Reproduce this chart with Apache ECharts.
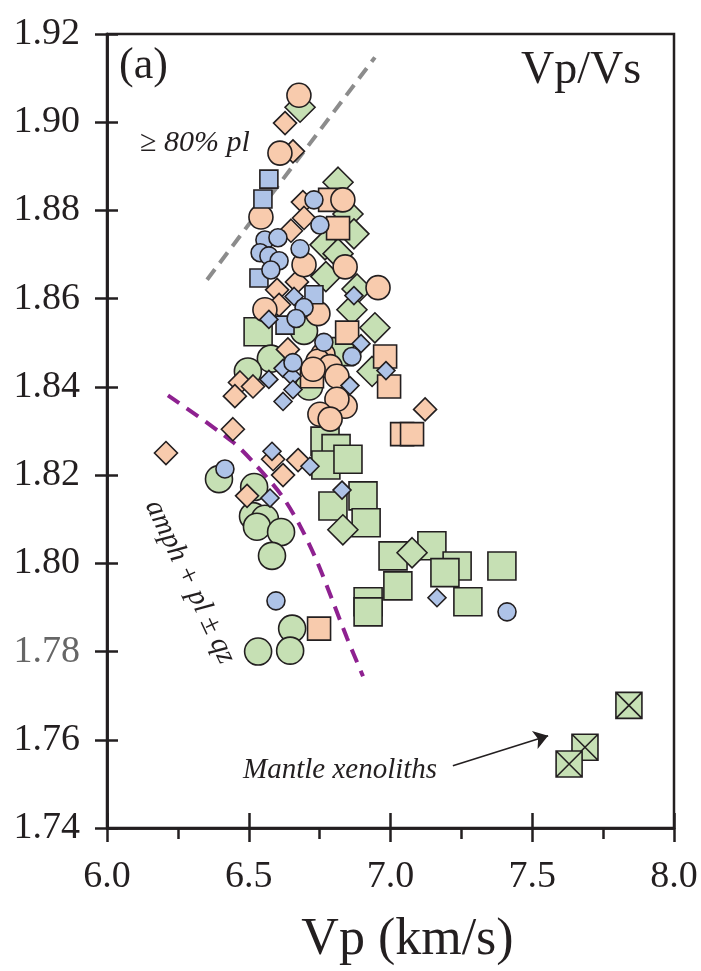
<!DOCTYPE html>
<html>
<head>
<meta charset="utf-8">
<script src="https://cdn.jsdelivr.net/npm/echarts@6/dist/echarts.min.js"></script>
<style>
  html, body { margin: 0; background: #fff; }
  #main { width: 701px; height: 971px; }
</style>
</head>
<body>
<div id="main"></div>
<script>
// Vp (km/s) vs Vp/Vs
const xTicks = [6.0, 6.5, 7.0, 7.5, 8.0];
const yTicks = [1.74, 1.76, 1.78, 1.80, 1.82, 1.84, 1.86, 1.88, 1.90, 1.92];

const peachCircles = [
  [6.677, 1.9061], [6.610, 1.8930], [6.543, 1.8785], [6.832, 1.8824], [6.840, 1.8672], [6.695, 1.8677],
  [6.956, 1.8625], [6.557, 1.8575], [6.744, 1.8566], [6.762, 1.8473], [6.744, 1.8458], [6.787, 1.8446],
  [6.727, 1.8440], [6.811, 1.8424], [6.840, 1.8356], [6.811, 1.8372], [6.751, 1.8338], [6.787, 1.8327]
];
const peachDiamonds = [
  [6.628, 1.8998], [6.656, 1.8934], [6.691, 1.8819], [6.695, 1.8783], [6.649, 1.8754], [6.670, 1.8638],
  [6.600, 1.8620], [6.607, 1.8586], [6.638, 1.8485], [6.469, 1.8410], [6.515, 1.8401], [6.451, 1.8379],
  [6.444, 1.8304], [6.208, 1.8250], [6.586, 1.8236], [6.674, 1.8234], [6.621, 1.8200], [6.494, 1.8153],
  [7.122, 1.8349]
];
const peachSquares = [
  [6.787, 1.8824], [6.815, 1.8760], [6.847, 1.8523], [6.981, 1.8469], [6.995, 1.8401], [6.723, 1.8424],
  [7.041, 1.8293], [7.076, 1.8293], [6.748, 1.7852]
];
const blueCircles = [
  [6.730, 1.8824], [6.751, 1.8767], [6.557, 1.8733], [6.603, 1.8738], [6.540, 1.8704], [6.571, 1.8697],
  [6.607, 1.8686], [6.578, 1.8665], [6.681, 1.8713], [6.695, 1.8580], [6.667, 1.8555], [6.765, 1.8501],
  [6.864, 1.8469], [6.656, 1.8455], [6.416, 1.8214], [6.596, 1.7915], [7.411, 1.7890]
];
const blueDiamonds = [
  [6.871, 1.8607], [6.660, 1.8605], [6.571, 1.8553], [6.896, 1.8498], [6.621, 1.8442], [6.653, 1.8424],
  [6.571, 1.8417], [6.857, 1.8403], [6.984, 1.8437], [6.656, 1.8394], [6.621, 1.8367], [6.582, 1.8254],
  [6.716, 1.8220], [6.575, 1.8148], [6.829, 1.8166], [7.164, 1.7922]
];
const blueSquares = [
  [6.571, 1.8871], [6.550, 1.8826], [6.536, 1.8647], [6.730, 1.8609], [6.628, 1.8540]
];
const greenCircles = [
  [6.695, 1.8527], [6.578, 1.8464], [6.497, 1.8435], [6.713, 1.8401], [6.395, 1.8191], [6.519, 1.8173],
  [6.515, 1.8107], [6.557, 1.8101], [6.529, 1.8083], [6.614, 1.8071], [6.582, 1.8017], [6.653, 1.7852],
  [6.533, 1.7800], [6.646, 1.7802]
];
const greenDiamonds = [
  [6.681, 1.9034], [6.815, 1.8864], [6.850, 1.8792], [6.871, 1.8747], [6.769, 1.8722], [6.815, 1.8702],
  [6.772, 1.8650], [6.882, 1.8622], [6.864, 1.8575], [6.945, 1.8534], [6.935, 1.8435], [6.832, 1.8076],
  [7.076, 1.8024]
];
const greenSquares = [
  [6.533, 1.8525], [6.820, 1.8480], [6.769, 1.8277], [6.808, 1.8260], [6.772, 1.8223], [6.850, 1.8236],
  [6.903, 1.8153], [6.797, 1.8130], [6.914, 1.8092], [7.009, 1.8017], [7.146, 1.8040], [7.235, 1.7994],
  [7.192, 1.7979], [7.393, 1.7994], [7.026, 1.7949], [7.273, 1.7913], [6.921, 1.7913], [6.921, 1.7890]
];
const mantleXenoliths = [[7.841, 1.7678], [7.686, 1.7583], [7.630, 1.7545]];

// guide lines
const plLine = [[6.353, 1.8643], [6.945, 1.9147]];
const amphCurve = [
  [6.215, 1.8381], [6.444, 1.8275], [6.529, 1.8220], [6.617, 1.8153], [6.681, 1.8085],
  [6.741, 1.8004], [6.797, 1.7913], [6.847, 1.7830], [6.903, 1.7744]
];
const arrowLine = [[7.220, 1.7541], [7.556, 1.7609]];

const PEACH = '#F8CBAD';
const BLUE = '#AEC3E7';
const GREEN = '#C6E0B4';
const EDGE = '#231F20';
const SERIF = '"Liberation Serif", "DejaVu Serif", serif';
const crossedSquare = 'path://M0,0L10,0L10,10L0,10Z M0,0L10,10 M10,0L0,10';

function pts(name, data, symbol, size, color) {
  return {
    name: name,
    type: 'scatter',
    data: data,
    symbol: symbol,
    symbolSize: size,
    itemStyle: { color: color, borderColor: EDGE, borderWidth: 1.6, opacity: 1 },
    emphasis: { disabled: true },
    z: 3
  };
}

let chart = echarts.init(document.getElementById('main'), null, { renderer: 'canvas' });

let xBase = {
  type: 'value', min: xTicks[0], max: xTicks[xTicks.length - 1], interval: 0.5,
  splitLine: { show: false }
};
let yBase = {
  type: 'value', min: yTicks[0], max: yTicks[yTicks.length - 1], interval: 0.02,
  splitLine: { show: false }
};

let option = {
  animation: false,
  backgroundColor: '#fff',
  grid: {
    left: 107, right: 27, top: 34, bottom: 141,
    show: true, borderColor: EDGE, borderWidth: 2.5, backgroundColor: 'transparent'
  },
  xAxis: [
    Object.assign({}, xBase, {
      position: 'bottom',
      name: 'Vp (km/s)',
      nameLocation: 'middle',
      nameGap: 86,
      nameTextStyle: { fontFamily: SERIF, fontSize: 52, color: EDGE, padding: [0, 0, 0, 34] },
      axisLine: { lineStyle: { color: EDGE, width: 2.5 } },
      axisTick: { show: true, inside: false, length: 14, lineStyle: { color: EDGE, width: 2.5 } },
      minorTick: { show: true, splitNumber: 2, length: 11, lineStyle: { color: EDGE, width: 2.5 } },
      axisLabel: {
        margin: 30, fontFamily: SERIF, fontSize: 38, color: EDGE,
        formatter: v => v.toFixed(1)
      }
    }),
    Object.assign({}, xBase, {
      position: 'bottom', offset: 0,
      axisLine: { show: true, onZero: false, lineStyle: { color: EDGE, width: 2.5 } },
      axisTick: { show: true, inside: true, length: 15, lineStyle: { color: EDGE, width: 2.5 } },
      axisLabel: { show: false }
    })
  ],
  yAxis: [
    Object.assign({}, yBase, {
      position: 'left',
      axisLine: { lineStyle: { color: EDGE, width: 2.5 } },
      axisTick: { show: true, inside: false, length: 12, lineStyle: { color: EDGE, width: 2.5 } },
      axisLabel: {
        margin: 27, fontFamily: SERIF, fontSize: 38,
        color: v => Math.abs(parseFloat(v) - 1.78) < 1e-6 ? '#666' : EDGE,
        formatter: v => v.toFixed(2)
      }
    }),
    Object.assign({}, yBase, {
      position: 'left', offset: 0,
      axisLine: { show: true, onZero: false, lineStyle: { color: EDGE, width: 2.5 } },
      axisTick: { show: true, inside: true, length: 11, lineStyle: { color: EDGE, width: 2.5 } },
      axisLabel: { show: false }
    })
  ],
  series: [
    {
      name: 'pl line', type: 'line', data: plLine, showSymbol: false, z: 1,
      lineStyle: { color: '#8C8C8C', width: 4, type: [13, 8] }
    },
    {
      name: 'amph curve', type: 'line', data: amphCurve, showSymbol: false, smooth: 0.3, z: 1,
      lineStyle: { color: '#8E2190', width: 4, type: [14, 9] }
    },
    {
      name: 'arrow', type: 'lines', coordinateSystem: 'cartesian2d', z: 4, silent: true,
      symbol: ['none', 'arrow'], symbolSize: 14,
      lineStyle: { color: EDGE, width: 1.6, opacity: 1 },
      data: [{ coords: arrowLine }]
    },
    pts('green squares', greenSquares, 'rect', 28, GREEN),
    pts('green diamonds', greenDiamonds, 'diamond', 30, GREEN),
    pts('green circles', greenCircles, 'circle', 27, GREEN),
    pts('peach squares', peachSquares, 'rect', 23, PEACH),
    pts('peach diamonds', peachDiamonds, 'diamond', 23, PEACH),
    pts('peach circles', peachCircles, 'circle', 24, PEACH),
    pts('blue squares', blueSquares, 'rect', 18, BLUE),
    pts('blue diamonds', blueDiamonds, 'diamond', 18, BLUE),
    pts('blue circles', blueCircles, 'circle', 18, BLUE),
    pts('mantle xenoliths', mantleXenoliths, crossedSquare, 26, GREEN)
  ],
  graphic: [
    { type: 'text', left: 119, top: 44, style: { text: '(a)', font: '44px ' + SERIF, fill: EDGE } },
    { type: 'text', left: 521, top: 48, style: { text: 'Vp/Vs', font: '46px ' + SERIF, fill: EDGE } },
    { type: 'text', left: 140, top: 128, style: { text: '≥ 80% pl', font: 'italic 30px ' + SERIF, fill: EDGE } },
    { type: 'text', left: 243, top: 756, style: { text: 'Mantle xenoliths', font: 'italic 29px ' + SERIF, fill: EDGE } },
    {
      type: 'text', x: 190, y: 582, rotation: -1.13,
      style: {
        text: 'amph + pl ± qz', font: 'italic 29px ' + SERIF, fill: EDGE,
        align: 'center', verticalAlign: 'middle'
      }
    }
  ]
};

chart.setOption(option);
</script>
</body>
</html>
